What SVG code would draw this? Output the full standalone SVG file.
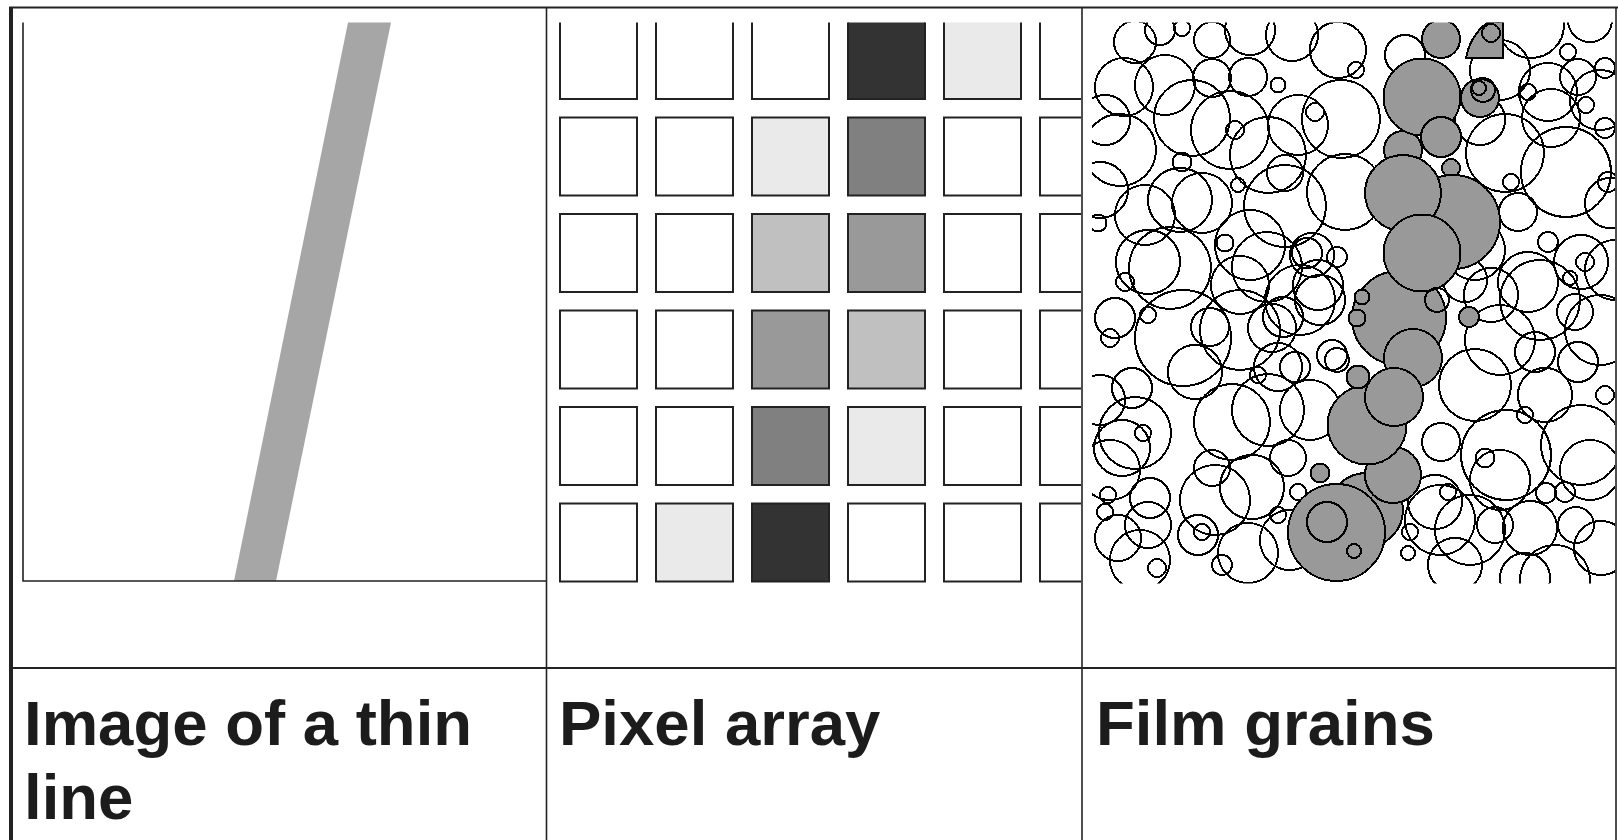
<svg xmlns="http://www.w3.org/2000/svg" width="1618" height="840" viewBox="0 0 1618 840">
  <style>
    .rule { stroke: #222; fill: none; }
    .cell { stroke: #222; stroke-width: 2; fill: #fff; }
    .k1 { fill: #333; }
    .k2 { fill: #808080; }
    .k3 { fill: #999; }
    .k4 { fill: #c0c0c0; }
    .k5 { fill: #eaeaea; }
    .grain { fill: none; stroke: #000; stroke-width: 2; }
    .dev { fill: #999; stroke: #000; stroke-width: 2; }
    .label { font-family: "Liberation Sans", Arial, sans-serif; font-weight: bold; font-size: 63.5px; fill: #1c1c1c; }
  </style>
  <defs>
    <clipPath id="clip-pixels"><rect x="548" y="22.5" width="533" height="561"/></clipPath>
    <clipPath id="clip-grains"><rect x="1092" y="22.5" width="523" height="561"/></clipPath>
  </defs>

  <rect width="1618" height="840" fill="#fff"/>

  <!-- table frame -->
  <g id="table">
    <line class="rule" x1="9" y1="7.5" x2="1618" y2="7.5" stroke-width="2"/>
    <line class="rule" x1="11" y1="7" x2="11" y2="840" stroke-width="4"/>
    <line class="rule" x1="1616" y1="7" x2="1616" y2="840" stroke-width="1.6"/>
    <line class="rule" x1="546.5" y1="7" x2="546.5" y2="840" stroke-width="1.6"/>
    <line class="rule" x1="1082" y1="7" x2="1082" y2="840" stroke-width="1.6"/>
    <line class="rule" x1="11" y1="668" x2="1616" y2="668" stroke-width="2"/>
  </g>

  <!-- panel 1: continuous image of a thin line -->
  <g id="thin-line">
    <polygon points="348,22.5 391,22.5 276,581 234,581" fill="#a6a6a6"/>
    <polyline class="rule" points="23,22.5 23,581 546.5,581" stroke-width="1.6"/>
  </g>

  <!-- panel 2: sampled pixel array -->
  <g id="pixel-array" clip-path="url(#clip-pixels)">
    <rect class="cell" x="560" y="21" width="77" height="78"/>
    <rect class="cell" x="656" y="21" width="77" height="78"/>
    <rect class="cell" x="752" y="21" width="77" height="78"/>
    <rect class="cell k1" x="848" y="21" width="77" height="78"/>
    <rect class="cell k5" x="944" y="21" width="77" height="78"/>
    <rect class="cell" x="1040" y="21" width="77" height="78"/>

    <rect class="cell" x="560" y="117.5" width="77" height="78"/>
    <rect class="cell" x="656" y="117.5" width="77" height="78"/>
    <rect class="cell k5" x="752" y="117.5" width="77" height="78"/>
    <rect class="cell k2" x="848" y="117.5" width="77" height="78"/>
    <rect class="cell" x="944" y="117.5" width="77" height="78"/>
    <rect class="cell" x="1040" y="117.5" width="77" height="78"/>

    <rect class="cell" x="560" y="214" width="77" height="78"/>
    <rect class="cell" x="656" y="214" width="77" height="78"/>
    <rect class="cell k4" x="752" y="214" width="77" height="78"/>
    <rect class="cell k3" x="848" y="214" width="77" height="78"/>
    <rect class="cell" x="944" y="214" width="77" height="78"/>
    <rect class="cell" x="1040" y="214" width="77" height="78"/>

    <rect class="cell" x="560" y="310.5" width="77" height="78"/>
    <rect class="cell" x="656" y="310.5" width="77" height="78"/>
    <rect class="cell k3" x="752" y="310.5" width="77" height="78"/>
    <rect class="cell k4" x="848" y="310.5" width="77" height="78"/>
    <rect class="cell" x="944" y="310.5" width="77" height="78"/>
    <rect class="cell" x="1040" y="310.5" width="77" height="78"/>

    <rect class="cell" x="560" y="407" width="77" height="78"/>
    <rect class="cell" x="656" y="407" width="77" height="78"/>
    <rect class="cell k2" x="752" y="407" width="77" height="78"/>
    <rect class="cell k5" x="848" y="407" width="77" height="78"/>
    <rect class="cell" x="944" y="407" width="77" height="78"/>
    <rect class="cell" x="1040" y="407" width="77" height="78"/>

    <rect class="cell" x="560" y="503.5" width="77" height="78"/>
    <rect class="cell k5" x="656" y="503.5" width="77" height="78"/>
    <rect class="cell k1" x="752" y="503.5" width="77" height="78"/>
    <rect class="cell" x="848" y="503.5" width="77" height="78"/>
    <rect class="cell" x="944" y="503.5" width="77" height="78"/>
    <rect class="cell" x="1040" y="503.5" width="77" height="78"/>
  </g>

  <!-- panel 3: film grains, developed grains filled -->
  <g id="film-grains" clip-path="url(#clip-grains)" shape-rendering="crispEdges">
    <g class="grain">
      <!-- undeveloped grains, left half -->
      <circle cx="1135" cy="42" r="21"/>
      <circle cx="1124" cy="87" r="29"/>
      <circle cx="1160" cy="30" r="15"/>
      <circle cx="1165" cy="85" r="30"/>
      <circle cx="1105" cy="120" r="25"/>
      <circle cx="1120" cy="150" r="36"/>
      <circle cx="1100" cy="190" r="28"/>
      <circle cx="1182" cy="28" r="8"/>
      <circle cx="1212" cy="40" r="18"/>
      <circle cx="1250" cy="30" r="25"/>
      <circle cx="1212" cy="78" r="19"/>
      <circle cx="1248" cy="77" r="19"/>
      <circle cx="1278" cy="85" r="7.5"/>
      <circle cx="1292" cy="35" r="26"/>
      <circle cx="1338" cy="50" r="28"/>
      <circle cx="1341" cy="119" r="39"/>
      <circle cx="1192" cy="118" r="38"/>
      <circle cx="1230" cy="130" r="39"/>
      <circle cx="1235" cy="130" r="9"/>
      <circle cx="1268" cy="155" r="38"/>
      <circle cx="1298" cy="125" r="30"/>
      <circle cx="1315" cy="112" r="9"/>
      <circle cx="1182" cy="162" r="9.5"/>
      <circle cx="1285" cy="173" r="18"/>
      <circle cx="1238" cy="185" r="7"/>
      <circle cx="1145" cy="215" r="30"/>
      <circle cx="1180" cy="200" r="32"/>
      <circle cx="1098" cy="223" r="8.5"/>
      <circle cx="1202" cy="203" r="30"/>
      <circle cx="1285" cy="206" r="41"/>
      <circle cx="1345" cy="192" r="38"/>
      <circle cx="1225" cy="243" r="8.5"/>
      <circle cx="1250" cy="245" r="35"/>
      <circle cx="1267" cy="267" r="35"/>
      <circle cx="1312" cy="255" r="22"/>
      <circle cx="1125" cy="282" r="9"/>
      <circle cx="1148" cy="262" r="32"/>
      <circle cx="1170" cy="268" r="41"/>
      <circle cx="1240" cy="285" r="29"/>
      <circle cx="1318" cy="285" r="25"/>

      <!-- undeveloped grains, right half -->
      <circle cx="1405" cy="55" r="20"/>
      <circle cx="1356" cy="70" r="8"/>
      <circle cx="1531" cy="25" r="33"/>
      <circle cx="1500" cy="70" r="30"/>
      <circle cx="1480" cy="120" r="25"/>
      <circle cx="1590" cy="20" r="22"/>
      <circle cx="1568" cy="52" r="8"/>
      <circle cx="1548" cy="92" r="29"/>
      <circle cx="1578" cy="77" r="18"/>
      <circle cx="1600" cy="100" r="30"/>
      <circle cx="1605" cy="68" r="10"/>
      <circle cx="1528" cy="92" r="8"/>
      <circle cx="1586" cy="105" r="8"/>
      <circle cx="1505" cy="153" r="39"/>
      <circle cx="1551" cy="118" r="29"/>
      <circle cx="1566" cy="172" r="45"/>
      <circle cx="1605" cy="128" r="10"/>
      <circle cx="1511" cy="182" r="8"/>
      <circle cx="1518" cy="212" r="19"/>
      <circle cx="1608" cy="182" r="10"/>
      <circle cx="1610" cy="203" r="25"/>
      <circle cx="1548" cy="242" r="10"/>
      <circle cx="1581" cy="262" r="27"/>
      <circle cx="1585" cy="262" r="9"/>
      <circle cx="1570" cy="278" r="7"/>
      <circle cx="1615" cy="270" r="30"/>
      <circle cx="1528" cy="282" r="30"/>
      <circle cx="1491" cy="295" r="27"/>
      <circle cx="1475" cy="250" r="30"/>
      <circle cx="1465" cy="280" r="22"/>
      <circle cx="1540" cy="300" r="40"/>
      <circle cx="1600" cy="330" r="35"/>
      <circle cx="1500" cy="340" r="35"/>

      <circle cx="1320" cy="300" r="25"/>
      <circle cx="1300" cy="300" r="35"/>
      <circle cx="1283" cy="317" r="20"/>
      <circle cx="1337" cy="360" r="12"/>
      <circle cx="1295" cy="367" r="15"/>
      <circle cx="1307" cy="253" r="15"/>
      <circle cx="1337" cy="257" r="10"/>

      <circle cx="1115" cy="318" r="20"/>
      <circle cx="1148" cy="315" r="8"/>
      <circle cx="1110" cy="338" r="9"/>
      <circle cx="1183" cy="338" r="48"/>
      <circle cx="1210" cy="327" r="19"/>
      <circle cx="1240" cy="330" r="40"/>
      <circle cx="1272" cy="328" r="24"/>
      <circle cx="1278" cy="367" r="24"/>
      <circle cx="1258" cy="375" r="8"/>
      <circle cx="1195" cy="372" r="27"/>
      <circle cx="1132" cy="388" r="20"/>
      <circle cx="1100" cy="400" r="25"/>
      <circle cx="1122" cy="448" r="28"/>
      <circle cx="1135" cy="433" r="36"/>
      <circle cx="1143" cy="433" r="8"/>
      <circle cx="1232" cy="422" r="38"/>
      <circle cx="1268" cy="410" r="36"/>
      <circle cx="1310" cy="410" r="30"/>
      <circle cx="1212" cy="468" r="18"/>
      <circle cx="1110" cy="470" r="30"/>
      <circle cx="1252" cy="487" r="32"/>
      <circle cx="1215" cy="500" r="35"/>
      <circle cx="1288" cy="458" r="18"/>
      <circle cx="1108" cy="495" r="8"/>
      <circle cx="1105" cy="512" r="8"/>
      <circle cx="1150" cy="498" r="20"/>
      <circle cx="1148" cy="525" r="23"/>
      <circle cx="1118" cy="538" r="23"/>
      <circle cx="1140" cy="560" r="30"/>
      <circle cx="1202" cy="532" r="8"/>
      <circle cx="1198" cy="535" r="20"/>
      <circle cx="1157" cy="568" r="9"/>
      <circle cx="1222" cy="565" r="10"/>
      <circle cx="1278" cy="515" r="8"/>
      <circle cx="1298" cy="492" r="8"/>
      <circle cx="1248" cy="553" r="30"/>
      <circle cx="1290" cy="540" r="30"/>
      <circle cx="1332" cy="355" r="15"/>

      <circle cx="1575" cy="312" r="18"/>
      <circle cx="1535" cy="352" r="20"/>
      <circle cx="1578" cy="362" r="20"/>
      <circle cx="1475" cy="385" r="36"/>
      <circle cx="1545" cy="395" r="27"/>
      <circle cx="1605" cy="395" r="9"/>
      <circle cx="1525" cy="415" r="8"/>
      <circle cx="1441" cy="442" r="19"/>
      <circle cx="1506" cy="455" r="45"/>
      <circle cx="1485" cy="458" r="9.5"/>
      <circle cx="1581" cy="445" r="40"/>
      <circle cx="1590" cy="470" r="30"/>
      <circle cx="1565" cy="492" r="10"/>
      <circle cx="1546" cy="493" r="10"/>
      <circle cx="1448" cy="492" r="8"/>
      <circle cx="1435" cy="502" r="27"/>
      <circle cx="1500" cy="480" r="30"/>
      <circle cx="1470" cy="530" r="35"/>
      <circle cx="1495" cy="525" r="18"/>
      <circle cx="1530" cy="528" r="27"/>
      <circle cx="1576" cy="525" r="18"/>
      <circle cx="1410" cy="532" r="8"/>
      <circle cx="1408" cy="553" r="7"/>
      <circle cx="1440" cy="520" r="35"/>
      <circle cx="1455" cy="565" r="27"/>
      <circle cx="1525" cy="578" r="25"/>
      <circle cx="1555" cy="580" r="35"/>
      <circle cx="1601" cy="548" r="27"/>
    </g>

    <!-- developed grains along the exposed line -->
    <circle class="dev" cx="1403" cy="150" r="19"/>
    <circle class="dev" cx="1422" cy="97" r="38.5"/>
    <circle class="dev" cx="1441" cy="39" r="19"/>
    <path class="dev" d="M1466,58 Q1470,36 1488,22 L1503,22 L1503,58 Z"/>
    <circle class="dev" cx="1480" cy="98" r="19"/>
    <circle class="dev" cx="1441" cy="137" r="20"/>
    <circle class="dev" cx="1451" cy="168" r="9"/>
    <circle class="dev" cx="1453" cy="222" r="47"/>
    <circle class="dev" cx="1403" cy="193" r="38"/>
    <circle class="dev" cx="1399" cy="318" r="47"/>
    <circle class="dev" cx="1422" cy="253" r="38.5"/>
    <circle class="dev" cx="1362" cy="297" r="7.5"/>
    <circle class="dev" cx="1357" cy="318" r="8.5"/>
    <circle class="dev" cx="1469" cy="317" r="10"/>
    <circle class="dev" cx="1320" cy="473" r="9.5"/>
    <circle class="dev" cx="1366" cy="510" r="37"/>
    <circle class="dev" cx="1393" cy="475" r="28"/>
    <circle class="dev" cx="1367" cy="425" r="39.5"/>
    <circle class="dev" cx="1358" cy="377" r="11.5"/>
    <circle class="dev" cx="1413" cy="358" r="29"/>
    <circle class="dev" cx="1394" cy="397" r="29"/>
    <circle class="dev" cx="1336.5" cy="532.5" r="48.5"/>

    <g class="grain">
      <circle cx="1491" cy="33" r="9"/>
      <circle cx="1479" cy="88" r="7"/>
      <circle cx="1483" cy="90" r="12"/>
      <circle cx="1437" cy="300" r="12"/>
      <circle cx="1327" cy="522" r="20"/>
      <circle cx="1354" cy="551" r="7"/>
    </g>
  </g>

  <g id="connectors"/>

  <!-- captions -->
  <g id="captions">
    <text class="label" x="24" y="745">Image of a thin</text>
    <text class="label" x="24" y="819">line</text>
    <text class="label" x="559" y="745">Pixel array</text>
    <text class="label" x="1096" y="745">Film grains</text>
  </g>
</svg>
